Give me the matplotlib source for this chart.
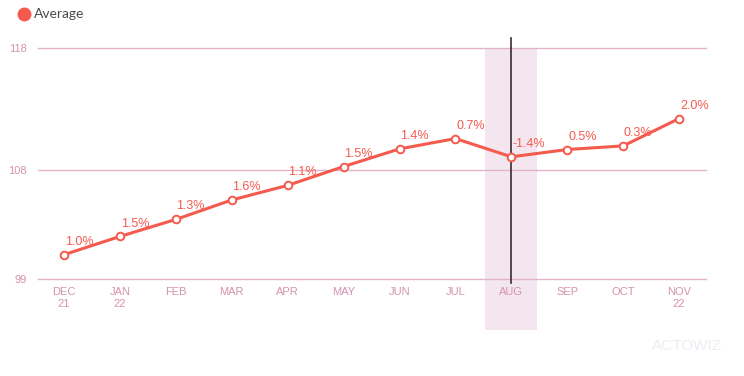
import matplotlib.pyplot as plt
import matplotlib.transforms as mtransforms
from matplotlib.lines import Line2D

# data
months = ['DEC\n21', 'JAN\n22', 'FEB', 'MAR', 'APR', 'MAY', 'JUN', 'JUL', 'AUG', 'SEP', 'OCT', 'NOV\n22']
average = [101.0, 102.5, 103.9, 105.5, 106.7, 108.25, 109.7, 110.55, 109.05, 109.65, 109.95, 112.2]
changes = ['1.0%', '1.5%', '1.3%', '1.6%', '1.1%', '1.5%', '1.4%', '0.7%', '-1.4%', '0.5%', '0.3%', '2.0%']
y_ticks = [99, 108, 118]
highlight = 'AUG'

red = '#f55a4e'
grid_col = '#e3b3c7'
tick_col = '#d592ae'
plt.rcParams['font.family'] = ['Liberation Sans', 'DejaVu Sans']

fig = plt.figure(figsize=(7.44, 3.76), dpi=100)
W, H = 744, 376
ax = fig.add_axes([38 / W, 1 - 279 / H, (706 - 38) / W, (279 - 48) / H])

x = list(range(len(months)))
ax.set_xlim(-0.465, len(months) - 1 + 0.48)
ax.set_ylim(99, 118)

for v in y_ticks:
    ax.axhline(v, color=grid_col, lw=1, zorder=1, clip_on=False)

# highlighted month band + cursor line
hi = months.index(highlight)
trans = mtransforms.blended_transform_factory(ax.transData, ax.transAxes)
ax.fill_between([hi - 0.465, hi + 0.465], [-51 / 231] * 2, [1, 1], transform=trans,
                color='#f4e6ee', zorder=0, clip_on=False, lw=0)
ax.add_line(Line2D([hi, hi], [-4 / 231, 1 + 10 / 231], transform=trans,
                   color='#3b2b33', lw=1.2, zorder=4, clip_on=False))

ax.plot(x, average, color=red, lw=2.2, marker='o', ms=5.5, mfc='white',
        mec=red, mew=1.4, zorder=5, clip_on=False)

for xi, yi, lab in zip(x, average, changes):
    ax.annotate(lab, (xi, yi), xytext=(0.5, 5), textcoords='offset points',
                ha='left', va='bottom', fontsize=9, color=red, zorder=6)

ax.set_yticks(y_ticks)
ax.set_yticklabels([str(v) for v in y_ticks])
ax.set_xticks(x)
ax.set_xticklabels(months, linespacing=1.15)
ax.tick_params(axis='both', length=0, colors=tick_col, labelsize=8)
ax.tick_params(axis='x', pad=6)
ax.tick_params(axis='y', pad=8)
for s in ax.spines.values():
    s.set_visible(False)

# legend
fig.add_artist(Line2D([24 / W], [1 - 14 / H], transform=fig.transFigure, marker='o',
                      ms=9, color=red, lw=0))
fig.text(34 / W, 1 - 14 / H, 'Average', fontsize=10, color='#4a4a4a', va='center',
         family=['Lato', 'DejaVu Sans'])

# faint watermark
fig.text(652 / W, 1 - 346 / H, 'ACTOWIZ', fontsize=11, color='#eceef4', va='center')

fig.savefig('out.png', dpi=100)
